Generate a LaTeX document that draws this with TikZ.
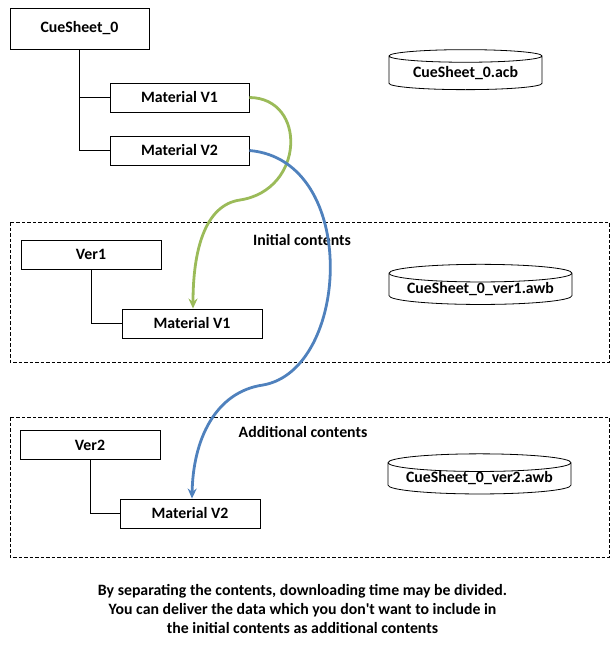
\documentclass[tikz,border=0pt]{standalone}
\usepackage{fontspec}
\setmainfont{Carlito}
\usetikzlibrary{positioning, shapes.geometric, arrows.meta}
\definecolor{flowGreen}{HTML}{9BBB59}
\definecolor{flowBlue}{HTML}{4F81BD}
\tikzstyle{diagram} = [x = 1pt, y = -1pt, every node/.style={font=\bfseries\fontsize{15.8}{19}\selectfont}]
\tikzstyle{treeBox} = [draw, fill=white, line width=0.9pt, minimum width=139pt, minimum height=29pt, inner sep=0pt]
\tikzstyle{treeLine} = [line width=0.8pt]
\tikzstyle{groupFrame} = [dash pattern=on 3.5pt off 2pt, line width=0.8pt]
\tikzstyle{archiveStyle} = [cylinder, shape border rotate=90, draw, fill=white, line width=0.8pt, aspect=0.12, minimum height=40pt, inner sep=0pt]
\tikzstyle{moveArrow} = [line width=2.8pt, -{Stealth[length=10pt, width=9pt]}]
\newcommand{\archive}[4]{\node [archiveStyle, minimum width=#3] (#1) at #2 {#4};}

\begin{document}
\begin{tikzpicture}[diagram]
    \useasboundingbox (0,0) rectangle (610,645);
    % source cue sheet
    \node [treeBox, minimum height=41pt] (cueSheet) at (79.5,28.5) {CueSheet\_0};
    \node [treeBox] (materialOne) at (179.5,97.5) {Material V1};
    \node [treeBox] (materialTwo) at (179.5,150.5) {Material V2};
    \draw [treeLine] (cueSheet.south) |- (materialOne.west);
    \draw [treeLine] (cueSheet.south) |- (materialTwo.west);
    \archive{acbFile}{(465.5,73)}{153pt}{CueSheet\_0.acb}
    % initial contents
    \draw [groupFrame] (10,222) rectangle (609,362);
    \node (initialLabel) at (302,240) {Initial contents};
    \node [treeBox, minimum width=140pt] (verOne) at (91,254.5) {Ver1};
    \node [treeBox, minimum width=140pt] (verOneMaterial) at (192,323.5) {Material V1};
    \draw [treeLine] (verOne.south) |- (verOneMaterial.west);
    \archive{awbOne}{(480.5,289)}{183pt}{CueSheet\_0\_ver1.awb}
    % additional contents
    \draw [groupFrame] (10,417) rectangle (609,557);
    \node (additionalLabel) at (303,432) {Additional contents};
    \node [treeBox, minimum width=140pt] (verTwo) at (90,445) {Ver2};
    \node [treeBox, minimum width=140pt] (verTwoMaterial) at (190,513.5) {Material V2};
    \draw [treeLine] (verTwo.south) |- (verTwoMaterial.west);
    \archive{awbTwo}{(479.5,478.5)}{183pt}{CueSheet\_0\_ver2.awb}
    % moves
    \draw [moveArrow, flowGreen] (materialOne.east) .. controls (307,98) and (305,190) .. (240,200) .. controls (205,205) and (193,250) .. (verOneMaterial.north -| 193,0);
    \draw [moveArrow, flowBlue] (materialTwo.east) .. controls (360,160) and (350,370) .. (263,385) .. controls (215,392) and (193,440) .. (verTwoMaterial.north -| 192,0);
    \node [align=center] (note) at (302.5,609) {By separating the contents, downloading time may be divided.\\You can deliver the data which you don\textquotesingle t want to include in\\the initial contents as additional contents};
\end{tikzpicture}
\end{document}
